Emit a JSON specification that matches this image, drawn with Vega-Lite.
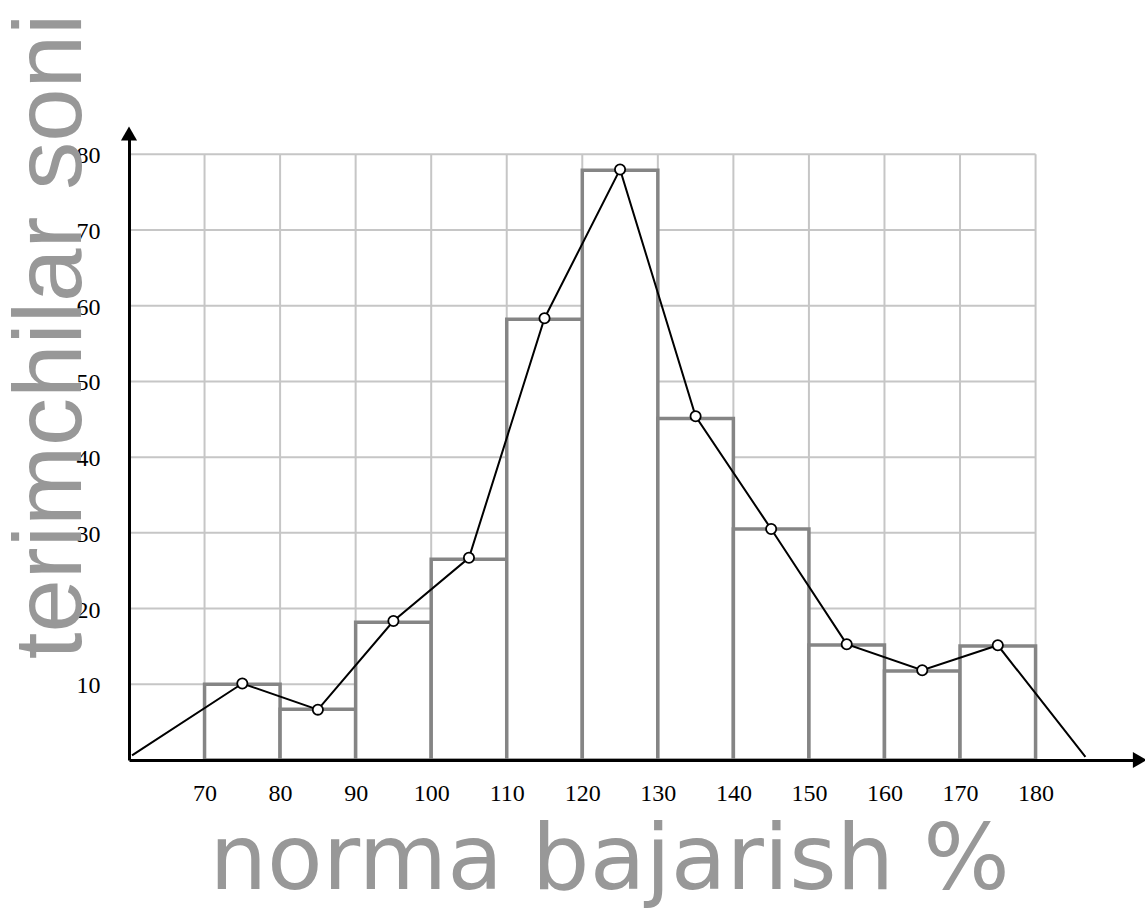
{
  "$schema": "https://vega.github.io/schema/vega-lite/v6.json",
  "width": 1010,
  "height": 627,
  "autosize": {"type": "none"},
  "padding": {"left": 129, "top": 133, "right": 6, "bottom": 150},
  "background": "white",
  "config": {"view": {"stroke": null}},
  "datasets": {
    "hgrid": [
      {"x": 60, "x2": 180, "y": 10}, {"x": 60, "x2": 180, "y": 20},
      {"x": 60, "x2": 180, "y": 30}, {"x": 60, "x2": 180, "y": 40},
      {"x": 60, "x2": 180, "y": 50}, {"x": 60, "x2": 180, "y": 60},
      {"x": 60, "x2": 180, "y": 70}, {"x": 60, "x2": 180, "y": 80}
    ],
    "vgrid": [
      {"x": 70, "y": 0, "y2": 80}, {"x": 80, "y": 0, "y2": 80},
      {"x": 90, "y": 0, "y2": 80}, {"x": 100, "y": 0, "y2": 80},
      {"x": 110, "y": 0, "y2": 80}, {"x": 120, "y": 0, "y2": 80},
      {"x": 130, "y": 0, "y2": 80}, {"x": 140, "y": 0, "y2": 80},
      {"x": 150, "y": 0, "y2": 80}, {"x": 160, "y": 0, "y2": 80},
      {"x": 170, "y": 0, "y2": 80}, {"x": 180, "y": 0, "y2": 80}
    ],
    "bars": [
      {"x": 70, "x2": 80, "y": 10.0},
      {"x": 80, "x2": 90, "y": 6.7},
      {"x": 90, "x2": 100, "y": 18.2},
      {"x": 100, "x2": 110, "y": 26.5},
      {"x": 110, "x2": 120, "y": 58.2},
      {"x": 120, "x2": 130, "y": 77.9},
      {"x": 130, "x2": 140, "y": 45.1},
      {"x": 140, "x2": 150, "y": 30.5},
      {"x": 150, "x2": 160, "y": 15.2},
      {"x": 160, "x2": 170, "y": 11.75},
      {"x": 170, "x2": 180, "y": 15.05}
    ],
    "polygon": [
      {"x": 60.4, "y": 0.6},
      {"x": 75, "y": 10.1},
      {"x": 85, "y": 6.65},
      {"x": 95, "y": 18.35},
      {"x": 105, "y": 26.7},
      {"x": 115, "y": 58.35},
      {"x": 125, "y": 78.0},
      {"x": 135, "y": 45.4},
      {"x": 145, "y": 30.5},
      {"x": 155, "y": 15.3},
      {"x": 165, "y": 11.85},
      {"x": 175, "y": 15.15},
      {"x": 186.6, "y": 0.4}
    ],
    "arrows": [
      {"x": 60, "y": 82.75, "shape": "triangle-up"},
      {"x": 193.8, "y": 0, "shape": "triangle-right"}
    ]
  },
  "layer": [
    {
      "data": {"name": "hgrid"},
      "mark": {"type": "rule", "stroke": "#c6c6c6", "strokeWidth": 2},
      "encoding": {
        "x": {"field": "x", "type": "quantitative", "scale": {"domain": [60, 193.69], "nice": false, "zero": false},
          "axis": {
            "values": [70, 80, 90, 100, 110, 120, 130, 140, 150, 160, 170, 180],
            "grid": false, "ticks": false, "tickSize": 0,
            "domain": true, "domainColor": "black", "domainWidth": 3,
            "labelFont": "Liberation Serif", "labelFontSize": 24, "labelColor": "black",
            "labelBaseline": "alphabetic", "labelPadding": 40, "labelFlush": false,
            "title": "norma bajarish %", "titleFont": "DejaVu Sans", "titleFontSize": 91,
            "titleFontWeight": "normal", "titleColor": "#989898",
            "titleX": 480, "titleY": 128, "titleAlign": "center", "titleBaseline": "alphabetic",
            "zindex": 1
          }},
        "x2": {"field": "x2"},
        "y": {"field": "y", "type": "quantitative", "scale": {"domain": [0, 82.81], "nice": false, "zero": false},
          "axis": {
            "values": [10, 20, 30, 40, 50, 60, 70, 80],
            "grid": false, "ticks": false, "tickSize": 0,
            "domain": true, "domainColor": "black", "domainWidth": 3,
            "labelFont": "Liberation Serif", "labelFontSize": 24, "labelColor": "black",
            "labelBaseline": "alphabetic", "labelOffset": 8.5, "labelPadding": 29, "labelAlign": "right",
            "labelFlush": false,
            "title": "terimchilar soni", "titleFont": "Liberation Sans", "titleFontSize": 96,
            "titleFontWeight": "normal", "titleColor": "#989898", "titleAngle": -90,
            "titleX": -49, "titleY": 203, "titleAlign": "center", "titleBaseline": "alphabetic",
            "zindex": 1
          }}
      }
    },
    {
      "data": {"name": "vgrid"},
      "mark": {"type": "rule", "stroke": "#c6c6c6", "strokeWidth": 2},
      "encoding": {
        "x": {"field": "x", "type": "quantitative"},
        "y": {"field": "y", "type": "quantitative"},
        "y2": {"field": "y2"}
      }
    },
    {
      "data": {"name": "bars"},
      "mark": {"type": "rect", "fill": "white", "stroke": "#858585", "strokeWidth": 3.5},
      "encoding": {
        "x": {"field": "x", "type": "quantitative"},
        "x2": {"field": "x2"},
        "y": {"field": "y", "type": "quantitative"},
        "y2": {"datum": 0}
      }
    },
    {
      "data": {"name": "polygon"},
      "mark": {"type": "line", "stroke": "black", "strokeWidth": 2},
      "encoding": {
        "x": {"field": "x", "type": "quantitative"},
        "y": {"field": "y", "type": "quantitative"}
      }
    },
    {
      "data": {"name": "polygon"},
      "transform": [{"filter": "datum.x >= 70 && datum.x <= 180"}],
      "mark": {"type": "point", "shape": "circle", "filled": true, "fill": "white", "stroke": "black", "strokeWidth": 1.8, "size": 105, "opacity": 1},
      "encoding": {
        "x": {"field": "x", "type": "quantitative"},
        "y": {"field": "y", "type": "quantitative"}
      }
    },
    {
      "data": {"name": "arrows"},
      "mark": {"type": "point", "filled": true, "fill": "black", "strokeWidth": 0, "size": 260, "opacity": 1},
      "encoding": {
        "x": {"field": "x", "type": "quantitative"},
        "y": {"field": "y", "type": "quantitative"},
        "shape": {"field": "shape", "type": "nominal", "scale": null, "legend": null}
      }
    }
  ]
}
